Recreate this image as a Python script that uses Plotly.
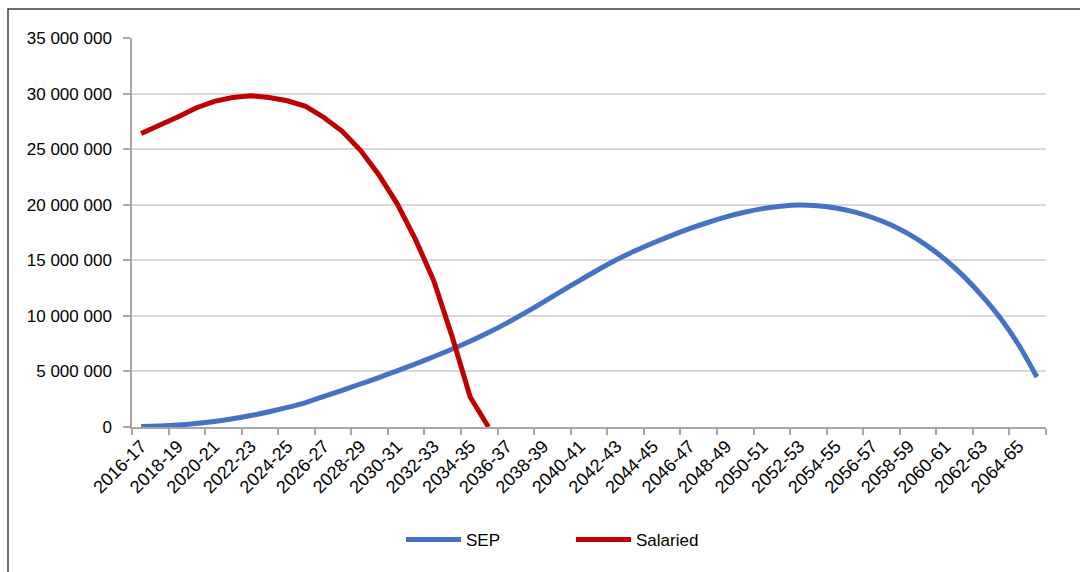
import plotly.graph_objects as go

# Fiscal years 2016-17 .. 2065-66
years = [f"{y}-{str(y + 1)[-2:]}" for y in range(2016, 2066)]

# Annual values by scheme
sep = [
    0.05e6, 0.09e6, 0.17e6, 0.31e6, 0.5e6, 0.74e6, 1.03e6, 1.37e6, 1.76e6, 2.2e6,
    2.75e6, 3.3e6, 3.87e6, 4.45e6, 5.05e6, 5.67e6, 6.32e6, 7.0e6, 7.72e6, 8.5e6,
    9.35e6, 10.27e6, 11.23e6, 12.22e6, 13.2e6, 14.15e6, 15.05e6, 15.83e6, 16.55e6, 17.22e6,
    17.84e6, 18.4e6, 18.9e6, 19.32e6, 19.65e6, 19.87e6, 19.97e6, 19.9e6, 19.7e6, 19.35e6,
    18.85e6, 18.2e6, 17.35e6, 16.3e6, 15.05e6, 13.55e6, 11.8e6, 9.8e6, 7.4e6, 4.5e6,
]
salaried = [
    26.4e6, 27.1e6, 27.9e6, 28.7e6, 29.3e6, 29.65e6, 29.8e6, 29.65e6, 29.35e6, 28.85e6,
    27.85e6, 26.6e6, 24.9e6, 22.7e6, 20.1e6, 16.9e6, 13.2e6, 8.2e6, 2.7e6, 0.0,
]

series = [
    ("SEP", sep, "#4472C4", "spline"),
    ("Salaried", salaried, "#C00000", "linear"),
]

FONT = "Liberation Sans, Arial, sans-serif"
W, H = 1080, 572
L, R, T, B = 132, 1046, 38, 427  # plot area in pixels


def px(x):
    return (x - L) / (R - L)


def py(y):
    return (B - y) / (B - T)


fig = go.Figure()
for name, vals, color, shape in series:
    fig.add_trace(go.Scatter(
        x=years[:len(vals)], y=vals, mode="lines", name=name,
        line=dict(color=color, width=5, shape=shape, smoothing=0.8),
        showlegend=False,
    ))

shapes = [
    # chart frame (top and left edges visible)
    dict(type="rect", xref="paper", yref="paper",
         x0=px(8), x1=px(1095), y0=py(590), y1=py(9),
         line=dict(color="#404040", width=1.5), layer="below"),
]
annotations = []

# legend drawn below the axis
legend_items = [("SEP", "#4472C4", 406, 461, 464), ("Salaried", "#C00000", 576, 631, 634)]
for name, color, lx0, lx1, tx in legend_items:
    shapes.append(dict(type="line", xref="paper", yref="paper",
                       x0=px(lx0), x1=px(lx1), y0=py(539.5), y1=py(539.5),
                       line=dict(color=color, width=5)))
    annotations.append(dict(xref="paper", yref="paper", x=px(tx), y=py(540),
                            xanchor="left", yanchor="middle", showarrow=False,
                            text=name, font=dict(family=FONT, size=17, color="#000000")))

fig.update_layout(
    width=W, height=H,
    margin=dict(l=L, r=W - R, t=T, b=H - B),
    paper_bgcolor="white", plot_bgcolor="white",
    font=dict(family=FONT, size=17, color="#000000"),
    shapes=shapes, annotations=annotations,
    separators=". ",
    xaxis=dict(
        type="category", categoryorder="array", categoryarray=years,
        range=[-0.5, len(years) - 0.5],
        tickmode="linear", tick0=0, dtick=2, tickson="boundaries",
        ticks="outside", ticklen=6, tickcolor="#A6A6A6", tickwidth=1.5,
        tickangle=-45, showgrid=False,
        showline=True, linecolor="#A6A6A6", linewidth=1.5,
        tickfont=dict(family=FONT, size=18),
    ),
    yaxis=dict(
        range=[0, 35e6], tickmode="linear", tick0=0, dtick=5e6,
        tickformat=",d",
        ticks="outside", ticklen=7, tickcolor="#A6A6A6", tickwidth=1.5,
        ticklabelstandoff=8,
        showgrid=True, gridcolor="#D9D9D9", gridwidth=1.5,
        showline=True, linecolor="#A6A6A6", linewidth=1.5,
        zeroline=False, tickfont=dict(family=FONT, size=17),
    ),
)

fig.write_html("out.html")
